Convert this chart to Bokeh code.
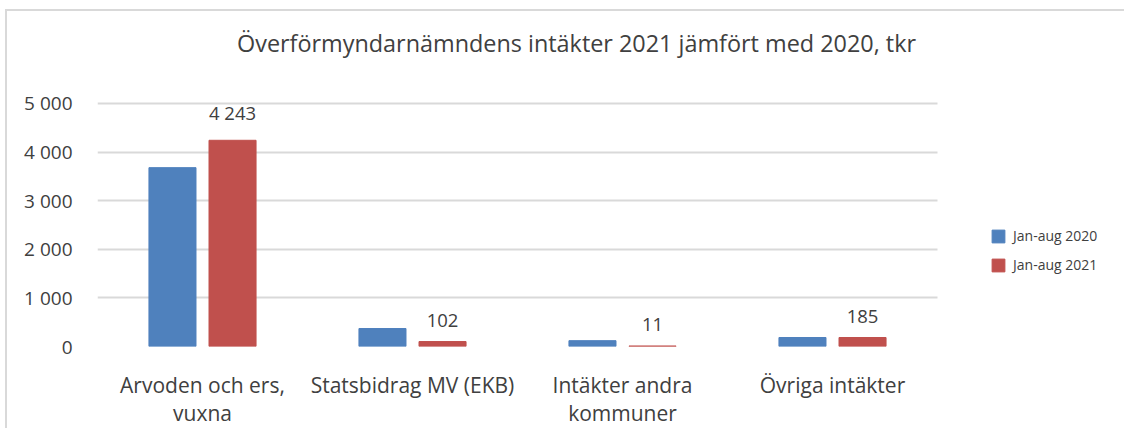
from bokeh.plotting import figure
from bokeh.models import (ColumnDataSource, Range1d, FixedTicker, Legend, LegendItem, Label)
from bokeh.core.properties import value
from bokeh.embed import file_html
from bokeh.resources import INLINE

categories = ["Arvoden och ers,\nvuxna", "Statsbidrag MV (EKB)", "Intäkter andra\nkommuner", "Övriga intäkter"]
series_names = ["Jan-aug 2020", "Jan-aug 2021"]
values_2020 = [3680, 370, 120, 185]
values_2021 = [4243, 102, 11, 185]
labels_2021 = ["4 243", "102", "11", "185"]
y_ticks = [0, 1000, 2000, 3000, 4000, 5000]
y_tick_labels = ["0", "1 000", "2 000", "3 000", "4 000", "5 000"]
title_text = "Överförmyndarnämndens intäkter 2021 jämfört med 2020, tkr"

FONT = "Open Sans"
TXT = "#404040"
BLUE = "#4f81bd"
RED = "#c0504d"
GRID = "#d9d9d9"

n = len(categories)
xpos = list(range(1, n + 1))
off = 0.143
bw = 0.224

src = ColumnDataSource(dict(
    x1=[x - off for x in xpos], x2=[x + off for x in xpos],
    v1=values_2020, v2=values_2021, lab=labels_2021,
))

# the frame is widened up and to the right so that title and legend sit inside it
p = figure(width=1119, height=419, output_backend="svg", toolbar_location=None,
           x_range=Range1d(0.5, 5.40), y_range=Range1d(0, 6893),
           min_border_left=90, min_border_right=0, min_border_top=0, min_border_bottom=84)
p.styles = {"margin-left": "7px", "margin-top": "11px", "box-shadow": "-2px -2px 0 0 #d9d9d9"}
p.outline_line_color = None
p.background_fill_color = "white"
p.border_fill_color = "white"

p.xgrid.grid_line_color = None
try:
    p.ygrid.cross_bounds = (0.5, n + 0.5)
    p.ygrid.grid_line_color = GRID
    p.ygrid.grid_line_width = 2
except AttributeError:
    p.ygrid.grid_line_color = None
    p.segment(x0=[0.5] * len(y_ticks), x1=[n + 0.5] * len(y_ticks), y0=y_ticks, y1=y_ticks,
              line_color=GRID, line_width=2, level="underlay")

r1 = p.vbar(x="x1", top="v1", width=bw, source=src, color=BLUE)
r2 = p.vbar(x="x2", top="v2", width=bw, source=src, color=RED)
p.text(x="x2", y="v2", text="lab", source=src, text_align="center", text_baseline="bottom",
       y_offset=-15, text_font=value(FONT), text_font_size="18.5px", text_color=TXT)

p.yaxis.ticker = FixedTicker(ticks=y_ticks)
p.yaxis.major_label_overrides = {t: l for t, l in zip(y_ticks, y_tick_labels)}
p.xaxis.ticker = FixedTicker(ticks=xpos)
p.xaxis.major_label_overrides = {x: c for x, c in zip(xpos, categories)}
for ax in (p.xaxis[0], p.yaxis[0]):
    ax.axis_line_color = None
    ax.major_tick_line_color = None
    ax.minor_tick_line_color = None
    ax.major_label_text_font = FONT
    ax.major_label_text_color = TXT
p.yaxis.major_label_text_font_size = "19px"
p.xaxis.major_label_text_font_size = "21px"
p.xaxis.major_label_text_line_height = 1.0
p.yaxis.major_label_standoff = 19
p.xaxis.major_label_standoff = 18

p.add_layout(Label(x=2.781, y=6235, text=title_text, text_align="center", text_baseline="middle",
                   text_font=FONT, text_font_size="23.4px", text_color=TXT))

legend = Legend(items=[LegendItem(label=series_names[0], renderers=[r1]),
                       LegendItem(label=series_names[1], renderers=[r2])],
                location=(893, 72), glyph_width=16, glyph_height=16, label_height=16,
                spacing=10, padding=0, margin=0, border_line_color=None,
                background_fill_alpha=0, label_text_font=FONT, label_text_font_size="14px",
                label_text_color=TXT, label_standoff=7)
p.add_layout(legend)

open("out.html", "w").write(file_html(p, INLINE))
